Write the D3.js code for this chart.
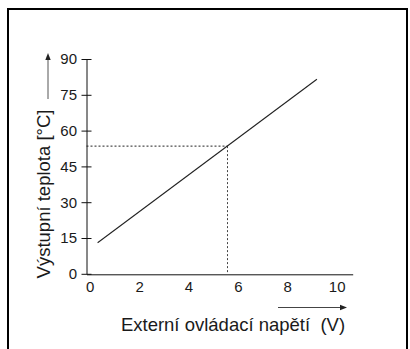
<!DOCTYPE html>
<html>
<head>
<meta charset="utf-8">
<script src="https://cdn.jsdelivr.net/npm/d3@7"></script>
<style>
  html, body { margin: 0; padding: 0; background: #fff; }
  svg { display: block; font-family: "Liberation Sans", Arial, Helvetica, sans-serif; }
</style>
</head>
<body>
<svg id="chart" width="410" height="349"></svg>
<script>
// Data
const xTicks = [0, 2, 4, 6, 8, 10];
const yTicks = [0, 15, 30, 45, 60, 75, 90];
const voltage = [0.32, 9.2];
const temperature = [13.0, 81.5];
const markVoltage = [5.58];
const markTemperature = [53.5];
const xTitle = "Externí ovládací napětí  (V)";
const yTitle = "Výstupní teplota [°C]";

const svg = d3.select("#chart");

// Frame (open at the bottom, extends below the picture)
svg.append("rect")
  .attr("x", 8).attr("y", 9).attr("width", 399).attr("height", 400)
  .attr("fill", "none").attr("stroke", "#000").attr("stroke-width", 2);

const x = d3.scaleLinear().domain([-0.13, 10.65]).range([86.5, 352.7]);
const y = d3.scaleLinear().domain([0, 90]).range([273.8, 59]);

// Y axis
const yAxisG = svg.append("g").attr("transform", "translate(86.5,0)")
  .call(d3.axisLeft(y).tickValues(yTicks).tickSizeInner(5).tickSizeOuter(0).tickPadding(4.5));
yAxisG.select(".domain").attr("stroke", "#111");
yAxisG.selectAll(".tick line").attr("x1", -5).attr("x2", 5).attr("stroke", "#111");
yAxisG.selectAll(".tick text").attr("font-size", 15).attr("fill", "#1a1a1a")
  .attr("font-family", "'Liberation Sans', Arial, sans-serif");

// X axis
const xAxisG = svg.append("g").attr("transform", "translate(0,274.3)")
  .call(d3.axisBottom(x).tickValues(xTicks).tickSize(0).tickPadding(7.5));
xAxisG.select(".domain").attr("stroke", "#111");
xAxisG.selectAll(".tick text").attr("font-size", 15).attr("fill", "#1a1a1a")
  .attr("font-family", "'Liberation Sans', Arial, sans-serif");

// Dashed guide lines
svg.append("line")
  .attr("x1", 86.5).attr("x2", x(markVoltage[0]))
  .attr("y1", y(markTemperature[0])).attr("y2", y(markTemperature[0]))
  .attr("stroke", "#222").attr("stroke-width", 1).attr("stroke-dasharray", "2,2");
svg.append("line")
  .attr("x1", x(markVoltage[0])).attr("x2", x(markVoltage[0]))
  .attr("y1", y(markTemperature[0])).attr("y2", y(0))
  .attr("stroke", "#444").attr("stroke-width", 1).attr("stroke-dasharray", "2,2");

// Data line
const pts = voltage.map((v, i) => [v, temperature[i]]);
svg.append("path")
  .attr("d", d3.line().x(d => x(d[0])).y(d => y(d[1]))(pts))
  .attr("fill", "none").attr("stroke", "#222").attr("stroke-width", 1.1);

// Titles
svg.append("text")
  .attr("transform", "translate(50,194) rotate(-90)")
  .attr("text-anchor", "middle").attr("font-size", 18.5).attr("fill", "#1a1a1a")
  .text(yTitle);
svg.append("text")
  .attr("x", 233).attr("y", 331)
  .attr("text-anchor", "middle").attr("font-size", 18.5).attr("fill", "#1a1a1a")
  .style("white-space", "pre")
  .text(xTitle);

// Arrows
svg.append("line").attr("x1", 48).attr("x2", 48).attr("y1", 99).attr("y2", 58)
  .attr("stroke", "#555").attr("stroke-width", 1);
svg.append("path").attr("d", "M48,53 L45.3,60 L50.7,60 Z").attr("fill", "#222");
svg.append("line").attr("x1", 278).attr("x2", 341).attr("y1", 307.5).attr("y2", 307.5)
  .attr("stroke", "#444").attr("stroke-width", 1);
svg.append("path").attr("d", "M347,307.5 L340,304.8 L340,310.2 Z").attr("fill", "#222");
</script>
</body>
</html>
